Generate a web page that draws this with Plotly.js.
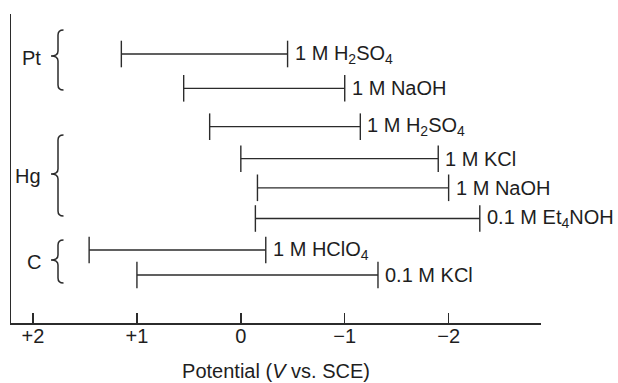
<!DOCTYPE html>
<html>
<head>
<meta charset="utf-8">
<script src="https://cdn.plot.ly/plotly-3.0.1.min.js"></script>
<style>
  html, body { margin: 0; padding: 0; background: #fff; }
  #chart { width: 618px; height: 383px; }
</style>
</head>
<body>
<div id="chart"></div>
<script>
// Potential windows of electrode / electrolyte combinations (V vs. SCE)
const electrodes = ['Pt', 'Pt', 'Hg', 'Hg', 'Hg', 'Hg', 'C', 'C'];
const electrolytes = [
  '1 M H<sub>2</sub>SO<sub>4</sub>',
  '1 M NaOH',
  '1 M H<sub>2</sub>SO<sub>4</sub>',
  '1 M KCl',
  '1 M NaOH',
  '0.1 M Et<sub>4</sub>NOH',
  '1 M HClO<sub>4</sub>',
  '0.1 M KCl'
];
const anodicLimit   = [1.15, 0.55, 0.30, 0.00, -0.16, -0.14, 1.46, 1.00];
const cathodicLimit = [-0.45, -1.00, -1.15, -1.90, -2.00, -2.30, -0.24, -1.32];
const tickValues = [2, 1, 0, -1, -2];
const tickLabels = ['+2', '+1', '0', '\u22121', '\u22122'];

// vertical placement of each row (axis units, top = 0)
const rowPos = [40, 74.3, 112.7, 144.7, 173.8, 204.5, 236, 261];

const INK = '#2b2b2b';
const FONT = 'Liberation Sans, Arial, sans-serif';

const traces = anodicLimit.map((a, i) => ({
  type: 'scatter',
  mode: 'lines+markers',
  x: [a, cathodicLimit[i]],
  y: [rowPos[i], rowPos[i]],
  line: { color: INK, width: 1.3 },
  marker: { symbol: 'line-ns', size: 19, line: { color: INK, width: 1.4 } },
  hoverinfo: 'skip',
  showlegend: false
}));

const annotations = cathodicLimit.map((c, i) => ({
  x: c, y: rowPos[i], xref: 'x', yref: 'y',
  text: electrolytes[i],
  xanchor: 'left', yanchor: 'middle',
  xshift: 5, yshift: 0,
  showarrow: false,
  font: { family: FONT, size: 20, color: '#1e1e1e' }
}));

// electrode group labels with braces
const plotLeft = 11, plotWidth = 530;
const px = v => (v - plotLeft) / plotWidth;
const groups = [
  { name: 'Pt', top: 16, tip: 42, bot: 76 },
  { name: 'Hg', top: 121, tip: 160, bot: 202 },
  { name: 'C',  top: 226, tip: 246, bot: 269 }
];

const shapes = [];
groups.forEach(g => {
  annotations.push({
    x: px(43), y: g.tip, xref: 'paper', yref: 'y',
    text: g.name, xanchor: 'right', yanchor: 'middle', yshift: -2,
    showarrow: false,
    font: { family: FONT, size: 20, color: '#1e1e1e' }
  });
  const xt = px(51), xs = px(58), xe = px(63.5), r = 5;
  const path =
    `M ${xe},${g.top} Q ${xs},${g.top} ${xs},${g.top + r} ` +
    `L ${xs},${g.tip - r} Q ${xs},${g.tip} ${xt},${g.tip} ` +
    `Q ${xs},${g.tip} ${xs},${g.tip + r} ` +
    `L ${xs},${g.bot - r} Q ${xs},${g.bot} ${xe},${g.bot}`;
  shapes.push({
    type: 'path', xref: 'paper', yref: 'y', path: path,
    line: { color: INK, width: 1.5 }
  });
});

const layout = {
  width: 618, height: 383,
  margin: { l: plotLeft, r: 618 - plotLeft - plotWidth, t: 14, b: 60 },
  paper_bgcolor: '#fff', plot_bgcolor: '#fff',
  xaxis: {
    range: [2.212, -2.889],
    tickvals: tickValues, ticktext: tickLabels,
    ticks: 'inside', ticklen: 10, tickwidth: 1.5, tickcolor: INK,
    ticklabelstandoff: -6,
    showline: true, linecolor: INK, linewidth: 1.5,
    showgrid: false, zeroline: false,
    tickfont: { family: FONT, size: 20, color: '#1e1e1e' },
    title: {
      text: 'Potential (<i>V</i> vs. SCE)',
      font: { family: FONT, size: 20, color: '#1e1e1e' },
      standoff: 18
    },
    automargin: false, fixedrange: true
  },
  yaxis: {
    range: [309, 0],
    showline: true, linecolor: INK, linewidth: 1.5,
    showticklabels: false, ticks: '', showgrid: false, zeroline: false,
    automargin: false, fixedrange: true
  },
  annotations: annotations,
  shapes: shapes
};

Plotly.newPlot('chart', traces, layout, { displayModeBar: false, staticPlot: true });
</script>
</body>
</html>
